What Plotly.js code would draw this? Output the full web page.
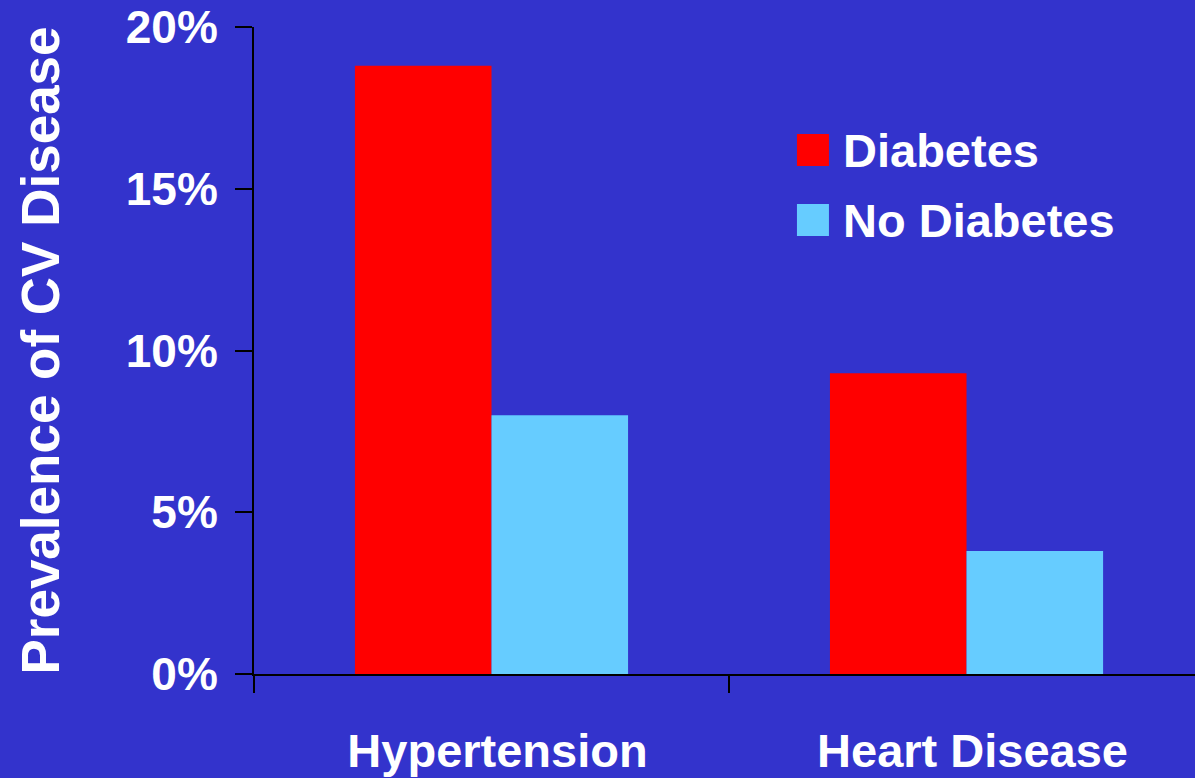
<!DOCTYPE html>
<html>
<head>
<meta charset="utf-8">
<script src="https://cdn.plot.ly/plotly-3.0.1.min.js"></script>
<style>
  html, body { margin: 0; padding: 0; background: #3333CC; }
  #chart { width: 1195px; height: 778px; }
</style>
</head>
<body>
<div id="chart"></div>
<script>
// Prevalence of cardiovascular disease by diabetes status
const categories = ['Hypertension', 'Heart Disease'];
const seriesNames = ['Diabetes', 'No Diabetes'];
const diabetesValues = [18.8, 9.3];
const noDiabetesValues = [8.0, 3.8];
const yTickValues = [0, 5, 10, 15, 20];
const yTickLabels = ['0%', '5%', '10%', '15%', '20%'];

const colors = ['#FF0000', '#66CCFF'];
const FONT = '"Liberation Sans", Arial, sans-serif';

const traces = [
  { type: 'bar', name: seriesNames[0], x: categories, y: diabetesValues,
    marker: { color: colors[0], line: { width: 0 } }, hoverinfo: 'none' },
  { type: 'bar', name: seriesNames[1], x: categories, y: noDiabetesValues,
    marker: { color: colors[1], line: { width: 0 } }, hoverinfo: 'none' }
];

// Large legend swatches drawn as shapes with text beside them
const swatchY = [[0.785, 0.8346], [0.677, 0.7264]];
const shapes = seriesNames.map((n, i) => ({
  type: 'rect', xref: 'paper', yref: 'paper',
  x0: 0.577, x1: 0.611, y0: swatchY[i][0], y1: swatchY[i][1],
  fillcolor: colors[i], line: { width: 0 }
}));
const annotations = seriesNames.map((n, i) => ({
  xref: 'paper', yref: 'paper', x: 0.624, y: (swatchY[i][0] + swatchY[i][1]) / 2,
  xanchor: 'left', yanchor: 'middle', showarrow: false,
  text: '<b>' + n + '</b>',
  font: { family: FONT, size: 47, color: '#FFFFFF' }
}));

const layout = {
  width: 1195, height: 778,
  paper_bgcolor: '#3333CC', plot_bgcolor: '#3333CC',
  margin: { l: 254, r: 0, t: 27, b: 104, pad: 0 },
  barmode: 'group', bargap: 0.425, bargroupgap: 0,
  showlegend: false,
  font: { family: FONT, color: '#FFFFFF' },
  xaxis: {
    type: 'category', range: [-0.5, 1.481],
    showline: true, linecolor: '#000000', linewidth: 2,
    ticks: 'outside', tickson: 'boundaries', ticklen: 17, tickwidth: 2, tickcolor: '#000000',
    showgrid: false, zeroline: false,
    tickfont: { family: FONT, size: 47, color: '#FFFFFF', weight: 'bold' },
    ticklabelstandoff: 35, ticklabelshift: 6
  },
  yaxis: {
    range: [0, 20], tickvals: yTickValues, ticktext: yTickLabels,
    showline: true, linecolor: '#000000', linewidth: 2,
    ticks: 'outside', ticklen: 17, tickwidth: 2, tickcolor: '#000000',
    showgrid: false, zeroline: false,
    tickfont: { family: FONT, size: 46, color: '#FFFFFF', weight: 'bold' },
    ticklabelstandoff: 8,
    title: { text: '<b>Prevalence of CV Disease</b>', standoff: 49,
             font: { family: FONT, size: 53, color: '#FFFFFF' } }
  },
  shapes: shapes,
  annotations: annotations
};

Plotly.newPlot('chart', traces, layout, { staticPlot: true, displayModeBar: false });
</script>
</body>
</html>
